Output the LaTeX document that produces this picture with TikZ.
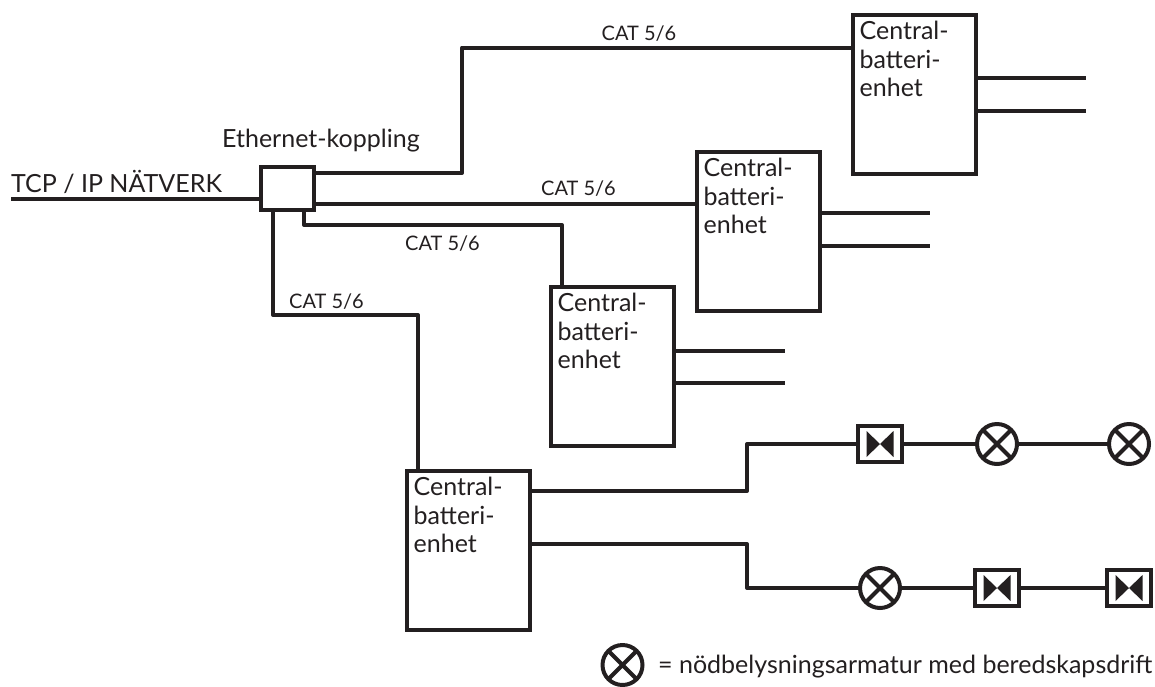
\documentclass[tikz,border=0pt]{standalone}
\usepackage{fontspec}
\setmainfont{Lato}
\usepackage{xcolor}
\usetikzlibrary{calc}
\definecolor{ink}{HTML}{231F20}
\tikzset{
  wire/.style={line width=4pt, draw=ink, line join=round},
  thinwire/.style={line width=3.6pt, draw=ink},
  unitbox/.style={rectangle, draw=ink, line width=4pt, fill=white, minimum width=123pt, minimum height=159pt, inner sep=0pt, anchor=north west},
  unittxt/.style={font=\fontsize{25}{28.5}\selectfont, text=ink, align=left, anchor=north west, inner sep=0pt},
  lbl/.style={font=\fontsize{20}{24}\selectfont, text=ink, inner sep=0pt, anchor=base},
  toptxt/.style={font=\fontsize{25}{28}\selectfont, text=ink, inner sep=0pt, anchor=base west},
  lamp/.style={circle, draw=ink, line width=4pt, fill=white, minimum size=40pt, inner sep=0pt,
    path picture={\draw[ink, line width=4pt] (path picture bounding box.north west) -- (path picture bounding box.south east)
      (path picture bounding box.north east) -- (path picture bounding box.south west);}},
  valve/.style={rectangle, draw=ink, line width=4pt, fill=white, minimum width=44pt, minimum height=36pt, inner sep=0pt,
    path picture={\fill[ink] ($(path picture bounding box.center)+(-13.5,-13)$) -- (path picture bounding box.center) -- ($(path picture bounding box.center)+(-13.5,13)$) -- cycle
      ($(path picture bounding box.center)+(13.5,-13)$) -- (path picture bounding box.center) -- ($(path picture bounding box.center)+(13.5,13)$) -- cycle;}}
}
\begin{document}
\begin{tikzpicture}[x=1pt,y=-1pt]
  \useasboundingbox (0,0) rectangle (1155,686);
  % switch and network
  \node[rectangle, draw=ink, line width=4pt, minimum width=53pt, minimum height=43pt, inner sep=0pt] (switch) at (287.5,188.5) {};
  \node[toptxt] (swlabel) at (222,147) {Ethernet-koppling};
  \node[toptxt] (tcplabel) at (11,192) {TCP / IP NÄTVERK};
  \coordinate (netend) at (11,199);
  \draw[wire] (netend) -- (netend -| switch.west);
  % central battery units
  \node[unitbox] (unita) at (851,13) {};
  \node[unitbox] (unitb) at (695,150) {};
  \node[unitbox] (unitc) at (549,285) {};
  \node[unitbox] (unitd) at (405,469) {};
  \foreach \u in {unita,unitb,unitc,unitd}
    \node[unittxt] (\u txt) at ($(\u.north west)+(8.5,8)$) {Central-\\batteri-\\enhet};
  % CAT links
  \coordinate (ja) at (462,47.5);
  \coordinate (jb) at (695,204);
  \coordinate (jc) at (562,225);
  \coordinate (jd) at (418,315);
  \draw[wire] ($(switch.north east)+(0,8)$) -| (ja) -- (ja -| unita.west);
  \draw[wire] (switch.east |- jb) -- (jb -| unitb.west);
  \draw[wire] ($(switch.south east)+(-12,0)$) |- (jc) -- (jc |- unitc.north);
  \draw[wire] ($(switch.south west)+(14,0)$) |- (jd) -- (jd |- unitd.north);
  \node[lbl] (cata) at (639,40) {CAT 5/6};
  \node[lbl] (catb) at (578.5,195) {CAT 5/6};
  \node[lbl] (catc) at (442.5,250) {CAT 5/6};
  \node[lbl] (catd) at (326.5,308) {CAT 5/6};
  % open outputs
  \draw[wire] ($(unita.north east)+(0,65)$) -- ++(108,0);
  \draw[wire] ($(unita.north east)+(0,98)$) -- ++(108,0);
  \draw[wire] ($(unitb.north east)+(0,63)$) -- ++(108,0);
  \draw[wire] ($(unitb.north east)+(0,96)$) -- ++(108,0);
  \draw[wire] ($(unitc.north east)+(0,65.5)$) -- ++(109,0);
  \draw[wire] ($(unitc.north east)+(0,98)$) -- ++(109,0);
  % luminaires
  \node[valve] (va) at (880,444) {};
  \node[lamp] (la) at (997,444) {};
  \node[lamp] (lb) at (1129,444) {};
  \node[lamp] (lc) at (880,588) {};
  \node[valve] (vb) at (997,588) {};
  \node[valve] (vc) at (1129,588) {};
  \coordinate (je) at (747,491);
  \coordinate (jf) at (747,544);
  \draw[wire] (unitd.east |- je) -- (je) |- (va.west);
  \draw[wire] (unitd.east |- jf) -- (jf) |- (lc.west);
  \draw[thinwire] (va) -- (la);
  \draw[thinwire] (la) -- (lb);
  \draw[thinwire] (lc) -- (vb);
  \draw[thinwire] (vb) -- (vc);
  % legend
  \node[lamp] (key) at (622.5,665) {};
  \node[toptxt] (keytxt) at (658,673) {= nödbelysningsarmatur med beredskapsdrift};
\end{tikzpicture}
\end{document}
